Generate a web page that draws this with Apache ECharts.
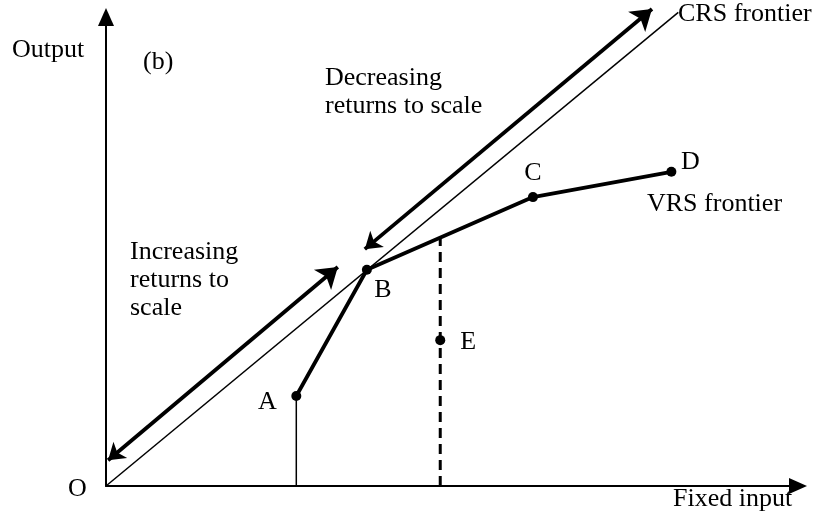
<!DOCTYPE html>
<html>
<head>
<meta charset="utf-8">
<script src="https://cdn.jsdelivr.net/npm/echarts@6/dist/echarts.min.js"></script>
<style>
  html, body { margin: 0; padding: 0; background: #fff; }
  #chart { width: 817px; height: 517px; }
</style>
</head>
<body>
<div id="chart"></div>
<script>
// firms A-E (input, output)
const pointNames = ['A', 'B', 'C', 'D', 'E']
const pointX = [2.75, 3.77, 6.17, 8.17, 4.83]
const pointY = [1.92, 4.61, 6.16, 6.70, 3.11]
// VRS frontier goes through A, B, C, D
const vrsIdx = [0, 1, 2, 3]
// CRS ray from origin through B
const crsX = [0, 8.27]
const crsY = [0, 10.1]
// vertical drops
const dropAX = [2.75, 2.75]
const dropAY = [0, 1.92]
const dropEX = [4.83, 4.83]
const dropEY = [0, 5.29]
// double headed arrows
const irsX = [0.03, 3.35]
const irsY = [0.55, 4.67]
const drsX = [3.74, 7.89]
const drsY = [5.05, 10.17]

const font = '"Liberation Serif", "Times New Roman", serif'
const zip = (xs, ys) => xs.map((x, i) => [x, ys[i]])

const labelOffsets = [[-29, 6], [16, 20], [0, -24], [19, -10], [28, 2]]

const chart = echarts.init(document.getElementById('chart'))

const axisStyle = {
  type: 'value',
  min: 0,
  max: 10,
  axisLine: {
    lineStyle: { color: '#000', width: 2 },
    symbol: ['none', 'triangle'],
    symbolSize: [16, 18],
  },
  axisTick: { show: false },
  axisLabel: { show: false },
  splitLine: { show: false },
}

const option = {
  animation: false,
  backgroundColor: '#fff',
  grid: { left: 106, top: 17, width: 692, height: 469 },
  xAxis: axisStyle,
  yAxis: axisStyle,
  series: [
    {
      name: 'CRS',
      type: 'line',
      clip: false,
      silent: true,
      symbol: 'none',
      data: zip(crsX, crsY),
      lineStyle: { color: '#000', width: 1.5 },
    },
    {
      name: 'dropA',
      type: 'line',
      silent: true,
      symbol: 'none',
      data: zip(dropAX, dropAY),
      lineStyle: { color: '#000', width: 1.5 },
    },
    {
      name: 'dropE',
      type: 'line',
      silent: true,
      symbol: 'none',
      data: zip(dropEX, dropEY),
      lineStyle: { color: '#000', width: 3, type: [10, 6] },
    },
    {
      name: 'VRS',
      type: 'line',
      silent: true,
      symbol: 'none',
      data: vrsIdx.map(i => [pointX[i], pointY[i]]),
      lineStyle: { color: '#000', width: 3.8 },
    },
    {
      name: 'arrows',
      type: 'lines',
      coordinateSystem: 'cartesian2d',
      clip: false,
      silent: true,
      symbol: ['arrow', 'arrow'],
      symbolSize: [16, 20],
      lineStyle: { color: '#000', width: 3.8, opacity: 1 },
      data: [
        { coords: zip(irsX, irsY) },
        { coords: zip(drsX, drsY) },
      ],
    },
    {
      name: 'firms',
      type: 'scatter',
      silent: true,
      symbol: 'circle',
      symbolSize: 10,
      itemStyle: { color: '#000', opacity: 1 },
      data: pointNames.map((n, i) => ({
        name: n,
        value: [pointX[i], pointY[i]],
        label: { offset: labelOffsets[i] },
      })),
      label: {
        show: true,
        position: 'inside',
        formatter: p => p.name,
        color: '#000',
        fontFamily: font,
        fontSize: 26,
      },
    },
  ],
  graphic: [
    { type: 'text', x: 12, y: 37, style: { text: 'Output', font: '26px ' + font, fill: '#000' } },
    { type: 'text', x: 143, y: 49, style: { text: '(b)', font: '26px ' + font, fill: '#000' } },
    { type: 'text', x: 325, y: 64, style: { text: 'Decreasing\nreturns to scale', font: '26px ' + font, lineHeight: 28, fill: '#000' } },
    { type: 'text', x: 130, y: 238, style: { text: 'Increasing\nreturns to\nscale', font: '26px ' + font, lineHeight: 28, fill: '#000' } },
    { type: 'text', x: 678, y: 1, style: { text: 'CRS frontier', font: '26px ' + font, fill: '#000' } },
    { type: 'text', x: 647, y: 191, style: { text: 'VRS frontier', font: '26px ' + font, fill: '#000' } },
    { type: 'text', x: 68, y: 476, style: { text: 'O', font: '26px ' + font, fill: '#000' } },
    { type: 'text', x: 673, y: 486, style: { text: 'Fixed input', font: '26px ' + font, fill: '#000' } },
  ],
}

chart.setOption(option)
</script>
</body>
</html>
